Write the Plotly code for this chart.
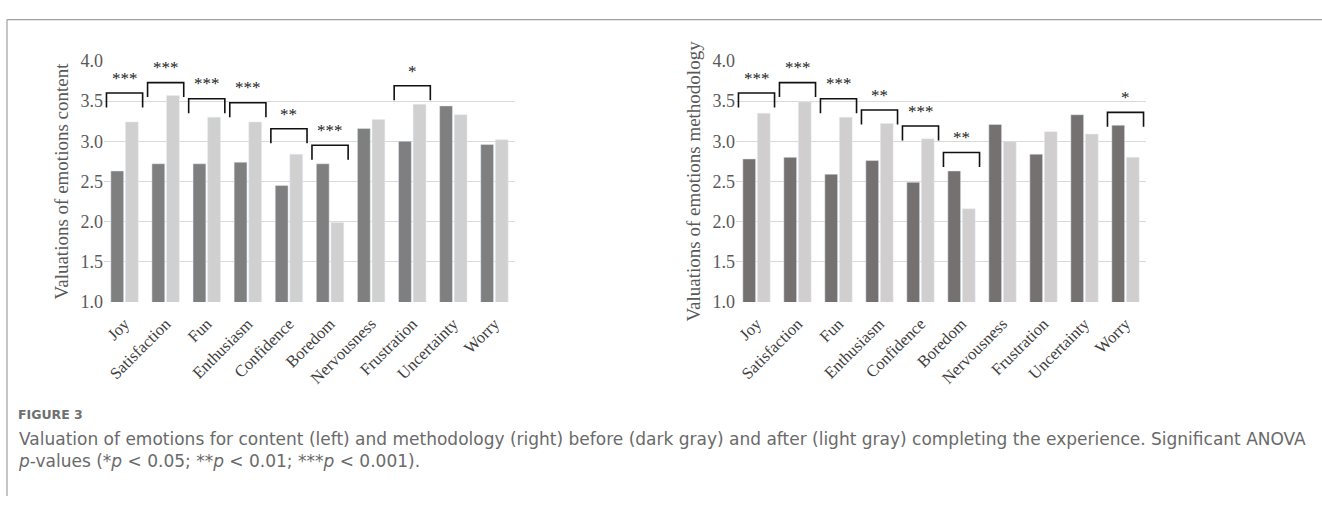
import plotly.graph_objects as go

categories = ["Joy", "Satisfaction", "Fun", "Enthusiasm", "Confidence", "Boredom",
              "Nervousness", "Frustration", "Uncertainty", "Worry"]

content_before = [2.63, 2.72, 2.72, 2.74, 2.45, 2.72, 3.16, 3.00, 3.44, 2.96]
content_after = [3.24, 3.57, 3.30, 3.24, 2.84, 1.99, 3.27, 3.46, 3.33, 3.02]
method_before = [2.78, 2.80, 2.59, 2.76, 2.49, 2.63, 3.21, 2.84, 3.33, 3.20]
method_after = [3.35, 3.49, 3.30, 3.22, 3.03, 2.16, 3.00, 3.12, 3.09, 2.80]

y_ticks = [1.0, 1.5, 2.0, 2.5, 3.0, 3.5, 4.0]

# significance markers: stars and bracket top level per category
content_sig = ["***", "***", "***", "***", "**", "***", "", "*", "", ""]
content_bracket = [3.60, 3.73, 3.53, 3.48, 3.155, 2.95, None, 3.69, None, None]
method_sig = ["***", "***", "***", "**", "***", "**", "", "", "", "*"]
method_bracket = [3.60, 3.73, 3.53, 3.39, 3.19, 2.86, None, None, None, 3.36]

W, H = 1322, 506
SERIF = "Liberation Serif, Times New Roman, serif"

fig = go.Figure()

fig.add_trace(go.Bar(x=categories, y=content_before, marker_color="#7f7f7f",
                     xaxis="x", yaxis="y", showlegend=False, name="Before"))
fig.add_trace(go.Bar(x=categories, y=content_after, marker_color="#d0d0d0",
                     xaxis="x", yaxis="y", showlegend=False, name="After"))
fig.add_trace(go.Bar(x=categories, y=method_before, marker_color="#767171",
                     xaxis="x2", yaxis="y2", showlegend=False, name="Before"))
fig.add_trace(go.Bar(x=categories, y=method_after, marker_color="#d0cece",
                     xaxis="x2", yaxis="y2", showlegend=False, name="After"))

ydom = [1 - 304 / H, 1 - 53 / H]
xdom1 = [104 / W, 515 / W]
xdom2 = [736 / W, 1146 / W]

axis_common_x = dict(
    type="category", showgrid=False, zeroline=False, showline=False,
    tickangle=-45, tickfont=dict(family=SERIF, size=16.5, color="#404040"),
    ticks="", ticklen=0, ticklabelstandoff=8,
)
axis_common_y = dict(
    range=[1, 4], tickvals=y_ticks, tickformat=".1f",
    showgrid=True, gridcolor="#d9d9d9", gridwidth=1.2, zeroline=False,
    showline=False, ticks="",
    tickfont=dict(family=SERIF, size=18, color="#595959"),
)

fig.update_layout(
    width=W, height=H,
    margin=dict(l=0, r=0, t=0, b=0),
    paper_bgcolor="white", plot_bgcolor="white",
    barmode="group", bargap=0.29, bargroupgap=0.12,
    xaxis=dict(domain=xdom1, anchor="y", **axis_common_x),
    xaxis2=dict(domain=xdom2, anchor="y2", **axis_common_x),
    yaxis=dict(domain=ydom, anchor="x",
               title=dict(text="Valuations of emotions content",
                          font=dict(family=SERIF, size=19, color="#595959"), standoff=6),
               **axis_common_y),
    yaxis2=dict(domain=ydom, anchor="x2",
                title=dict(text="Valuations of emotions methodology",
                           font=dict(family=SERIF, size=19, color="#595959"), standoff=6),
                **axis_common_y),
)

shapes = []
annotations = []
LEG = 0.18
HALF = 0.44


def add_brackets(sig, tops, xref, yref):
    for i, (s, top) in enumerate(zip(sig, tops)):
        if not s:
            continue
        x0, x1 = i - HALF, i + HALF
        shapes.append(dict(
            type="path", xref=xref, yref=yref,
            path=f"M {x0},{top - LEG} L {x0},{top} L {x1},{top} L {x1},{top - LEG}",
            line=dict(color="#111111", width=1.6),
        ))
        annotations.append(dict(
            x=i, y=top + 0.04, xref=xref, yref=yref, text=s, showarrow=False,
            yanchor="bottom", xanchor="center",
            font=dict(family=SERIF, size=17, color="#222222"),
        ))


add_brackets(content_sig, content_bracket, "x", "y")
add_brackets(method_sig, method_bracket, "x2", "y2")

# figure frame (top and left rules)
shapes.append(dict(type="line", xref="paper", yref="paper",
                   x0=7 / W, x1=1, y0=1 - 10 / H, y1=1 - 10 / H,
                   line=dict(color="#a0a0a0", width=1.2)))
shapes.append(dict(type="line", xref="paper", yref="paper",
                   x0=7 / W, x1=7 / W, y0=0, y1=1 - 10 / H,
                   line=dict(color="#a0a0a0", width=1.2)))

CAP = "DejaVu Sans, Open Sans, sans-serif"
annotations.append(dict(
    x=16 / W, y=1 - 421 / H, xref="paper", yref="paper", xanchor="left", yanchor="middle",
    text="<b>FIGURE 3</b>", showarrow=False,
    font=dict(family=CAP, size=12.5, color="#707070"),
))
annotations.append(dict(
    x=16 / W, y=1 - 458 / H, xref="paper", yref="paper", xanchor="left", yanchor="middle",
    align="left",
    text="Valuation of emotions for content (left) and methodology (right) before (dark gray) "
         "and after (light gray) completing the experience. Significant ANOVA<br>"
         "<i>p</i>-values (*<i>p</i> &lt; 0.05; **<i>p</i> &lt; 0.01; ***<i>p</i> &lt; 0.001).",
    showarrow=False, font=dict(family=CAP, size=17, color="#6a6a6a"),
))

fig.update_layout(shapes=shapes, annotations=annotations)

fig.write_html("out.html", config={"displayModeBar": False},
               post_script="document.body.style.margin='0';")
